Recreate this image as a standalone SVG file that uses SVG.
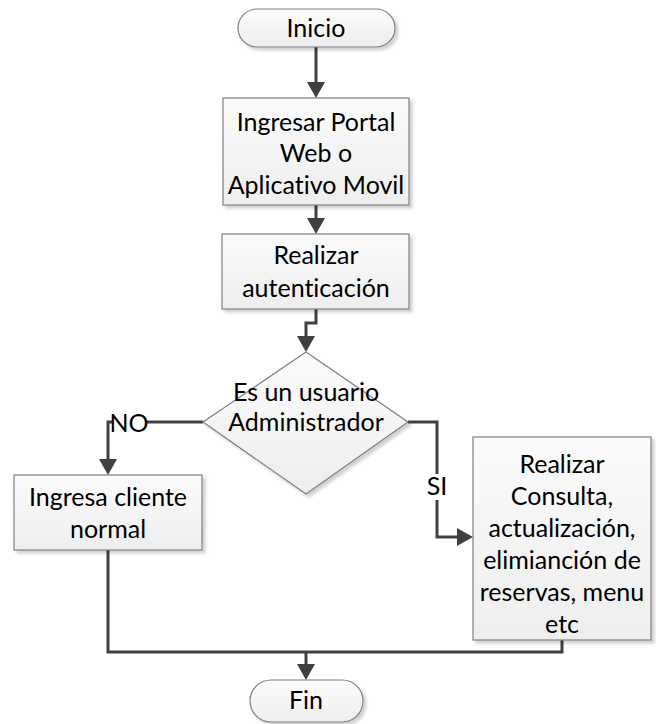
<svg xmlns="http://www.w3.org/2000/svg" width="656" height="724" viewBox="0 0 656 724">
  <style>
    .shape { fill: url(#fillGrad); stroke: #7f7f7f; stroke-width: 1.2; filter: url(#shadow); }
    .label { font-family: Lato, "Open Sans", sans-serif; font-size: 25px; fill: #000; text-anchor: middle; font-variant-ligatures: none; }
    .edge { fill: none; stroke: #404040; stroke-width: 3; stroke-linejoin: miter; }
    .arrow { marker-end: url(#head); }
    .tag { fill: #fff; }
  </style>
  <defs>
    <linearGradient id="fillGrad" x1="0" y1="0" x2="0" y2="1">
      <stop offset="0" stop-color="#fbfbfb"/>
      <stop offset="1" stop-color="#eeeeee"/>
    </linearGradient>
    <filter id="shadow" x="-10%" y="-10%" width="130%" height="130%">
      <feDropShadow dx="3" dy="3" stdDeviation="1.5" flood-color="#000" flood-opacity="0.18"/>
    </filter>
    <marker id="head" viewBox="0 0 16 18" markerWidth="16" markerHeight="18" refX="12" refY="9" orient="auto" markerUnits="userSpaceOnUse">
      <path d="M0,0 L16,9 L0,18 Z" fill="#404040"/>
    </marker>
  </defs>

  <!-- connectors -->
  <g id="connectors">
    <path class="edge arrow" d="M316,47 V94"/>
    <path class="edge arrow" d="M316,205 V230"/>
    <path class="edge arrow" d="M316,309 V323 H306 V348"/>
    <path class="edge arrow" d="M203,422 H108 V471"/>
    <path class="edge arrow" d="M408,422 H437 V537 H469"/>
    <path class="edge" d="M108,550 V652 H562 V640"/>
    <path class="edge arrow" d="M306,652 V676"/>
    <!-- branch labels -->
    <rect class="tag" x="112" y="410" width="35" height="26"/>
    <text class="label" x="129" y="432">NO</text>
    <rect class="tag" x="426" y="474" width="22" height="26"/>
    <text class="label" x="437" y="495">SI</text>
  </g>

  <g id="inicio">
    <rect class="shape" x="238" y="9" width="157" height="38" rx="19" ry="19"/>
    <text class="label" x="316" y="37">Inicio</text>
  </g>

  <g id="ingresar-portal">
    <rect class="shape" x="223" y="98" width="186" height="107"/>
    <text class="label" x="316" y="131">Ingresar Portal</text>
    <text class="label" x="316" y="162">Web o</text>
    <text class="label" x="316" y="194">Aplicativo Movil</text>
  </g>

  <g id="autenticacion">
    <rect class="shape" x="222" y="234" width="187" height="75"/>
    <text class="label" x="316" y="264">Realizar</text>
    <text class="label" x="316" y="297">autenticación</text>
  </g>

  <g id="es-administrador">
    <polygon class="shape" points="306,352 408,422 306,494 203,422"/>
    <text class="label" x="306" y="401">Es un usuario</text>
    <text class="label" x="306" y="431">Administrador</text>
  </g>

  <g id="cliente-normal">
    <rect class="shape" x="14" y="475" width="188" height="75"/>
    <text class="label" x="108" y="506">Ingresa cliente</text>
    <text class="label" x="108" y="538">normal</text>
  </g>

  <g id="consulta-admin">
    <rect class="shape" x="473" y="437" width="178" height="203"/>
    <text class="label" x="562" y="473">Realizar</text>
    <text class="label" x="562" y="505">Consulta,</text>
    <text class="label" x="562" y="537">actualización,</text>
    <text class="label" x="562" y="569">elimianción de</text>
    <text class="label" x="562" y="601">reservas, menu</text>
    <text class="label" x="562" y="633">etc</text>
  </g>

  <g id="fin">
    <rect class="shape" x="250" y="680" width="113" height="42" rx="21" ry="21"/>
    <text class="label" x="306" y="709">Fin</text>
  </g>
</svg>
